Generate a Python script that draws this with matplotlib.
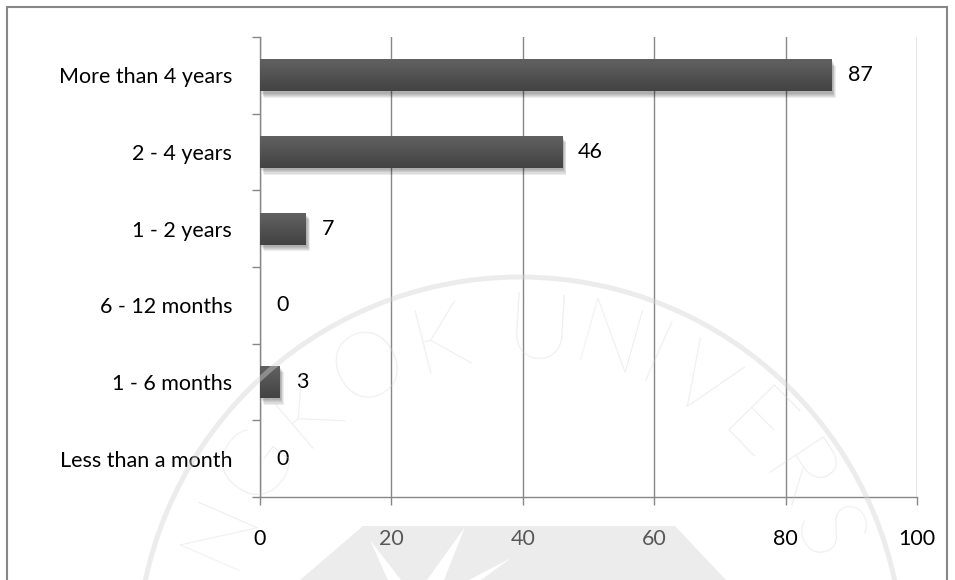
import numpy as np
import matplotlib
matplotlib.use("Agg")
import matplotlib.pyplot as plt
from matplotlib import patheffects as pe
from matplotlib.patches import Rectangle, Circle, Polygon
from matplotlib.textpath import TextPath
from matplotlib.font_manager import FontProperties
from matplotlib.colors import LinearSegmentedColormap

# ---- data ----
categories = ["Less than a month", "1 - 6 months", "6 - 12 months",
              "1 - 2 years", "2 - 4 years", "More than 4 years"]
counts = [0, 3, 0, 7, 46, 87]
x_ticks = [0, 20, 40, 60, 80, 100]
watermark_text = "BANGKOK UNIVERSITY"

# ---- figure / axes geometry (pixels) ----
W, H = 955, 580
FONT = "Lato"
GRID = "#878787"
FS = 15.5

plt.rcParams["font.family"] = [FONT, "DejaVu Sans"]

fig = plt.figure(figsize=(W / 100, H / 100), dpi=100)
fig.patch.set_facecolor("white")
ax = fig.add_axes([260 / W, 1 - 497 / H, (917 - 260) / W, (497 - 37) / H])

ypos = np.arange(len(categories))
bars = ax.barh(ypos, counts, height=0.42, color="#4e4e4e", linewidth=0, zorder=3)

# soft drop shadow under each bar
shadow = [pe.SimplePatchShadow(offset=(1.0 + 0.5 * i, -1.5 - 0.8 * i),
                               shadow_rgbFace="black", alpha=0.07)
          for i in range(5)]
cmap = LinearSegmentedColormap.from_list("barshade", ["#626262", "#434343"])
grad = np.linspace(0, 1, 64).reshape(-1, 1)
for b, v in zip(bars, counts):
    if v <= 0:
        continue
    b.set_path_effects(shadow + [pe.Normal()])
    x0, w = b.get_x(), b.get_width()
    y0, h = b.get_y(), b.get_height()
    im = ax.imshow(grad, extent=[x0, x0 + w, y0, y0 + h], origin="upper",
                   aspect="auto", cmap=cmap, zorder=3.5, interpolation="bilinear")
    im.set_clip_path(b)

ax.set_xlim(0, 100)
ax.set_ylim(-0.5, len(categories) - 0.5)

# value labels
for yi, v in zip(ypos, counts):
    ax.annotate(str(v), xy=(v, yi), xytext=(11.5, 0), textcoords="offset points",
                ha="left", va="center", fontsize=FS, color="black", zorder=5)

# axes styling
ax.set_axisbelow(True)
ax.xaxis.grid(True, color=GRID, linewidth=1.0)
ax.yaxis.grid(False)
for s in ["top", "right"]:
    ax.spines[s].set_visible(False)
for s in ["left", "bottom"]:
    ax.spines[s].set_color(GRID)
    ax.spines[s].set_linewidth(1.0)

ax.set_xticks(x_ticks)
ax.set_xticklabels([str(t) for t in x_ticks], fontsize=FS)
ax.tick_params(axis="x", length=5.8, width=1.0, color=GRID, pad=17, labelcolor="black")

ax.set_yticks(np.arange(-0.5, len(categories), 1.0))
ax.set_yticklabels([])
ax.set_yticks(ypos, minor=True)
ax.set_yticklabels(categories, minor=True, fontsize=FS)
ax.tick_params(axis="y", which="major", length=5.8, width=1.0, color=GRID)
ax.tick_params(axis="y", which="minor", length=0, pad=20, labelcolor="black")
ax.patch.set_alpha(0)

# outer frame
fig.add_artist(Rectangle((7 / W, -0.05), 940 / W, 1 - 7 / H + 0.05,
                         transform=fig.transFigure, fill=False,
                         edgecolor=GRID, linewidth=1.5))

# ---- faint seal watermark over the page ----
wax = fig.add_axes([0, 0, 1, 1], zorder=10)
wax.set_xlim(0, W)
wax.set_ylim(H, 0)
wax.axis("off")
wax.patch.set_alpha(0)

WM = "#d4d4d4"
WA = 0.42
cx, cy, R_ring = 520, 660, 383
wax.add_patch(Circle((cx, cy), R_ring, fill=False, edgecolor=WM, alpha=WA, linewidth=3.6))

fp = FontProperties(family=FONT, weight="light", size=66)
R_text = 327
tracking = 24.0
adv = []
for ch in watermark_text:
    if ch == " ":
        adv.append(6.0)
    else:
        tp = TextPath((0, 0), ch, prop=fp)
        adv.append(tp.get_extents().width * 100 / 72)
adv = np.array(adv) + tracking
cum = np.concatenate([[0], np.cumsum(adv)])
centers = cum[:-1] + adv / 2
space_idx = watermark_text.index(" ")
anchor_deg = 95.5
for ch, c in zip(watermark_text, centers):
    if ch == " ":
        continue
    theta = anchor_deg - np.degrees((c - centers[space_idx]) / R_text)
    t = np.radians(theta)
    px, py = cx + R_text * np.cos(t), cy - R_text * np.sin(t)
    if py > H - 20:
        continue  # glyph would sit below the page edge
    wax.text(px, py, ch, fontproperties=fp, color=WM, alpha=WA,
             rotation=theta - 90, rotation_mode="anchor", ha="center", va="center")

wax.add_patch(Polygon([(300, 580), (363, 526), (675, 526), (726, 580)],
                      closed=True, facecolor=WM, edgecolor="none", alpha=WA))
for tri in [[(370, 540), (388, 580), (401, 580)],
            [(465, 527), (427, 580), (444, 580)],
            [(511, 558), (469, 580), (481, 580)]]:
    wax.add_patch(Polygon(tri, closed=True, facecolor="white", edgecolor="none"))

fig.savefig("out.png", dpi=100)
